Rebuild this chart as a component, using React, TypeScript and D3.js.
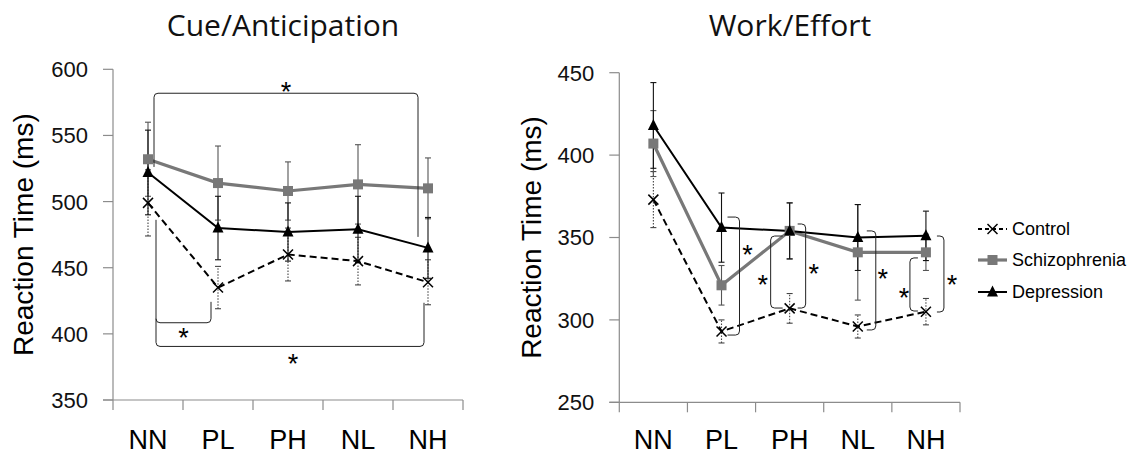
import React from "react";
import * as d3 from "d3";

const categories = ["NN", "PL", "PH", "NL", "NH"];
const seriesNames = ["Control", "Schizophrenia", "Depression"];

// Cue/Anticipation
const cueControl = [499, 435, 460, 455, 439];
const cueControlErr = [25, 16, 20, 18, 17];
const cueSchizo = [532, 514, 508, 513, 510];
const cueSchizoErr = [28, 28, 22, 30, 23];
const cueDepr = [522, 480, 477, 479, 465];
const cueDeprErr = [32, 24, 22, 25, 23];
const cueTicks = [350, 400, 450, 500, 550, 600];

// Work/Effort
const workControl = [373, 293, 307, 296, 305];
const workControlErr = [17, 7, 9, 7, 8];
const workSchizo = [407, 321, 354, 341, 341];
const workSchizoErr = [20, 12, 17, 29, 11];
const workDepr = [418, 356, 354, 350, 351];
const workDeprErr = [26, 21, 17, 20, 15];
const workTicks = [250, 300, 350, 400, 450];

// significance annotations (category, pixel offset from category centre, data values)
// right panel brackets: side "]" opens left, "[" opens right
const workBrackets = [
  { cat: "PL", side: "]", a: 6, b: 18, top: 362.4, bot: 290.8, star: 26, starV: 343.6 },
  { cat: "PH", side: "[", a: -7, b: -19, top: 350.9, bot: 307.2, star: -27, starV: 325.4 },
  { cat: "PH", side: "]", a: 8, b: 16, top: 358.2, bot: 307.2, star: 24, starV: 331.5 },
  { cat: "NL", side: "]", a: 9, b: 18, top: 354, bot: 293.9, star: 25, starV: 329 },
  { cat: "NH", side: "[", a: -8, b: -16, top: 337.6, bot: 305.4, star: -22, starV: 317.5 },
  { cat: "NH", side: "]", a: 11, b: 18, top: 350.9, bot: 304.8, star: 26, starV: 325.4 },
];

const SANS = "'Liberation Sans', Arial, sans-serif";
const TITLE = "'Open Sans', 'Noto Sans', sans-serif";

type Series = { name: string; vals: number[]; errs: number[] };

function Panel(props: {
  title: string;
  titleX: number;
  x0: number;
  x1: number;
  yTop: number;
  yBot: number;
  domain: [number, number];
  ticks: number[];
  series: Series[];
  labelX: number;
  children?: (x: d3.ScaleBand<string>, y: d3.ScaleLinear<number, number>) => React.ReactNode;
}) {
  const { x0, x1, yTop, yBot, domain, ticks, series } = props;
  const x = d3.scaleBand<string>().domain(categories).range([x0, x1]);
  const y = d3.scaleLinear().domain(domain).range([yBot, yTop]);
  const cx = (c: string) => (x(c) as number) + x.bandwidth() / 2;
  const line = d3
    .line<number>()
    .x((_, i) => cx(categories[i]))
    .y((d) => y(d));
  const axisColor = "#8c8c8c";
  const styles: Record<string, any> = {
    Control: { stroke: "#000", width: 2, dash: "7,4", err: "#444", errDash: "1.5,1.5" },
    Schizophrenia: { stroke: "#787878", width: 3.2, dash: null, err: "#555", errDash: null },
    Depression: { stroke: "#000", width: 2, dash: null, err: "#111", errDash: null },
  };
  return (
    <g>
      <text x={props.titleX} y={36} textAnchor="middle" fontFamily={TITLE} fontSize={30} fill="#111">
        {props.title}
      </text>
      {/* axes */}
      <line x1={x0} x2={x0} y1={yTop} y2={yBot + 10} stroke={axisColor} strokeWidth={1.2} />
      <line x1={x0 - 10} x2={x1} y1={yBot} y2={yBot} stroke={axisColor} strokeWidth={1.2} />
      {ticks.map((t) => (
        <g key={t}>
          <line x1={x0 - 10} x2={x0} y1={y(t)} y2={y(t)} stroke={axisColor} strokeWidth={1.2} />
          <text x={x0 - 25} y={y(t)} dy="0.36em" textAnchor="end" fontFamily={SANS} fontSize={22} fill="#111">
            {t}
          </text>
        </g>
      ))}
      {categories.map((c) => (
        <g key={c}>
          <line x1={(x(c) as number) + x.bandwidth()} x2={(x(c) as number) + x.bandwidth()} y1={yBot} y2={yBot + 10} stroke={axisColor} strokeWidth={1.2} />
          <text x={cx(c)} y={449} textAnchor="middle" fontFamily={SANS} fontSize={27} fill="#000">
            {c}
          </text>
        </g>
      ))}
      <text
        transform={`translate(${props.labelX},${(yTop + yBot) / 2}) rotate(-90)`}
        textAnchor="middle"
        fontFamily={SANS}
        fontSize={28}
        fill="#000"
      >
        Reaction Time (ms)
      </text>
      {/* error bars */}
      {series.map((s) =>
        s.vals.map((v, i) => {
          const st = styles[s.name];
          const px = cx(categories[i]);
          const lo = y(v - s.errs[i]);
          const hi = y(v + s.errs[i]);
          return (
            <g key={s.name + i} stroke={st.err} strokeWidth={1.1}>
              <line x1={px} x2={px} y1={lo} y2={hi} strokeDasharray={st.errDash || undefined} />
              <line x1={px - 3} x2={px + 3} y1={lo} y2={lo} />
              <line x1={px - 3} x2={px + 3} y1={hi} y2={hi} />
            </g>
          );
        })
      )}
      {/* lines */}
      {series.map((s) => {
        const st = styles[s.name];
        return (
          <path
            key={s.name}
            d={line(s.vals) as string}
            fill="none"
            stroke={st.stroke}
            strokeWidth={st.width}
            strokeDasharray={st.dash || undefined}
          />
        );
      })}
      {/* markers */}
      {series.map((s) =>
        s.vals.map((v, i) => (
          <Marker key={s.name + "m" + i} name={s.name} x={cx(categories[i])} y={y(v)} />
        ))
      )}
      {props.children && props.children(x, y)}
    </g>
  );
}

function Marker({ name, x, y }: { name: string; x: number; y: number }) {
  if (name === "Control") {
    return (
      <g stroke="#000" strokeWidth={1.5}>
        <line x1={x - 5} x2={x + 5} y1={y - 5} y2={y + 5} />
        <line x1={x - 5} x2={x + 5} y1={y + 5} y2={y - 5} />
      </g>
    );
  }
  if (name === "Schizophrenia") {
    return <rect x={x - 5} y={y - 5} width={10} height={10} fill="#787878" />;
  }
  return <path d={`M${x},${y - 6.5} L${x + 5.5},${y + 4.5} L${x - 5.5},${y + 4.5} Z`} fill="#000" />;
}

function Star({ x, y }: { x: number; y: number }) {
  return (
    <text x={x} y={y + 15.5} textAnchor="middle" fontFamily={SANS} fontSize={27} fill="#000">
      *
    </text>
  );
}

export default function App() {
  const cueSeries: Series[] = [
    { name: seriesNames[0], vals: cueControl, errs: cueControlErr },
    { name: seriesNames[1], vals: cueSchizo, errs: cueSchizoErr },
    { name: seriesNames[2], vals: cueDepr, errs: cueDeprErr },
  ];
  const workSeries: Series[] = [
    { name: seriesNames[0], vals: workControl, errs: workControlErr },
    { name: seriesNames[1], vals: workSchizo, errs: workSchizoErr },
    { name: seriesNames[2], vals: workDepr, errs: workDeprErr },
  ];
  const bc = "#222";
  const r = 4;
  return (
    <svg
      width={1133}
      height={456}
      style={{ position: "absolute", left: 0, top: 0, background: "#fff" }}
    >
      <rect width={1133} height={456} fill="#fff" />
      <Panel
        title="Cue/Anticipation"
        titleX={283}
        x0={113}
        x1={463}
        yTop={69.3}
        yBot={400}
        domain={[350, 600]}
        ticks={cueTicks}
        series={cueSeries}
        labelX={33}
      >
        {(x, y) => {
          const cx = (c: string) => (x(c) as number) + x.bandwidth() / 2;
          const nnA = cx("NN") + 6;
          const nnB = cx("NN") + 8;
          const nhA = cx("NH") - 10;
          const nhB = cx("NH") - 4;
          const plB = cx("PL") - 7;
          const yt = y(581.9);
          const ys = y(408.4);
          const yb = y(390.5);
          return (
            <g fill="none" stroke={bc} strokeWidth={1}>
              <path d={`M${nnA},${y(526.2)} L${nnA},${yt + r} Q${nnA},${yt} ${nnA + r},${yt} L${nhA - r},${yt} Q${nhA},${yt} ${nhA},${yt + r} L${nhA},${y(473.3)}`} />
              <path d={`M${nnB},${y(486.2)} L${nnB},${yb - r} Q${nnB},${yb} ${nnB + r},${yb} L${nhB - r},${yb} Q${nhB},${yb} ${nhB},${yb - r} L${nhB},${y(423.5)}`} />
              <path d={`M${nnB},${ys - r} Q${nnB},${ys} ${nnB + r},${ys} L${plB - r},${ys} Q${plB},${ys} ${plB},${ys - r} L${plB},${y(424.2)}`} />
              <g stroke="none">
                <Star x={(nnA + nhA) / 2} y={y(588)} />
                <Star x={(nnB + plB) / 2} y={y(401.8)} />
                <Star x={(nnB + nhB) / 2 + 3} y={y(382)} />
              </g>
            </g>
          );
        }}
      </Panel>
      <Panel
        title="Work/Effort"
        titleX={790}
        x0={619.3}
        x1={960}
        yTop={72.7}
        yBot={402.3}
        domain={[250, 450]}
        ticks={workTicks}
        series={workSeries}
        labelX={541}
      >
        {(x, y) => {
          const cx = (c: string) => (x(c) as number) + x.bandwidth() / 2;
          return (
            <g fill="none" stroke={bc} strokeWidth={1}>
              {workBrackets.map((b, i) => {
                const c = cx(b.cat);
                const a = c + b.a;
                const v = c + b.b;
                const t = y(b.top);
                const bo = y(b.bot);
                const sgn = b.side === "]" ? -1 : 1;
                const d = `M${a},${t} L${v + sgn * r},${t} Q${v},${t} ${v},${t + r} L${v},${bo - r} Q${v},${bo} ${v + sgn * r},${bo} L${a},${bo}`;
                return (
                  <g key={i}>
                    <path d={d} />
                    <g stroke="none">
                      <Star x={c + b.star} y={y(b.starV)} />
                    </g>
                  </g>
                );
              })}
            </g>
          );
        }}
      </Panel>
      {/* legend */}
      {seriesNames.map((n, i) => {
        const ly = [229, 260, 292][i];
        const st =
          n === "Control"
            ? { stroke: "#000", w: 2, dash: "4,3" }
            : n === "Schizophrenia"
            ? { stroke: "#787878", w: 3.2, dash: null }
            : { stroke: "#000", w: 2, dash: null };
        return (
          <g key={n}>
            <line x1={978} x2={1007} y1={ly} y2={ly} stroke={st.stroke} strokeWidth={st.w} strokeDasharray={st.dash || undefined} />
            <Marker name={n} x={992.5} y={ly} />
            <text x={1012} y={ly} dy="0.36em" fontFamily={SANS} fontSize={18} fill="#000">
              {n}
            </text>
          </g>
        );
      })}
    </svg>
  );
}
